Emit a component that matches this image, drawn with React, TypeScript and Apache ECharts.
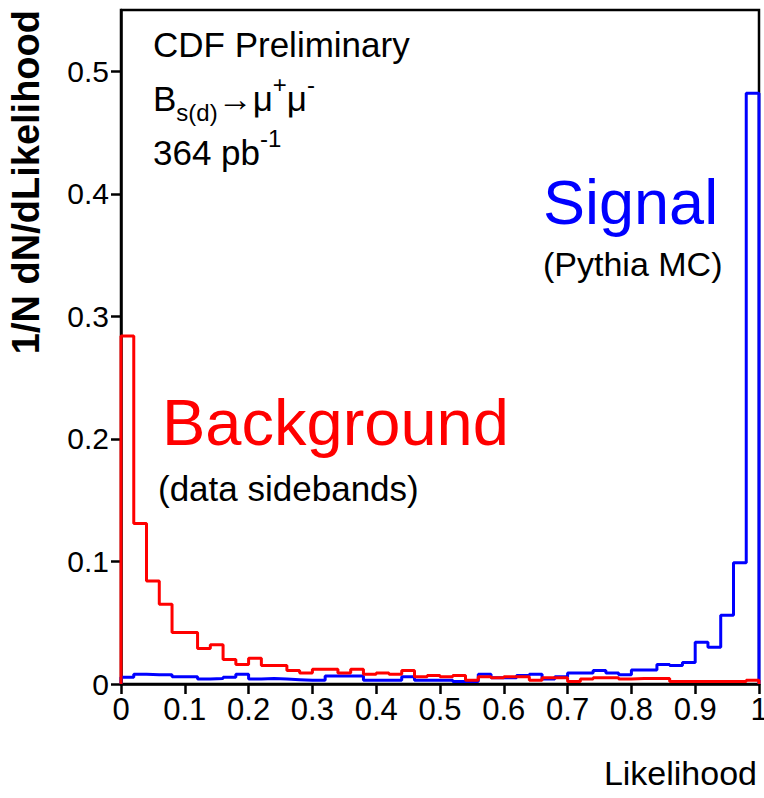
import React, { useEffect, useRef } from "react";
import * as echarts from "echarts";

const binWidth = 0.02;

// Background (data sidebands), 50 bins of width 0.02
const background = [
  0.284, 0.131, 0.084, 0.065, 0.042, 0.042, 0.029, 0.032, 0.020, 0.016,
  0.021, 0.015, 0.015, 0.011, 0.009, 0.012, 0.012, 0.009, 0.012, 0.008,
  0.009, 0.008, 0.011, 0.006, 0.007, 0.006, 0.007, 0.003, 0.006, 0.005,
  0.006, 0.006, 0.003, 0.005, 0.005, 0.002, 0.004, 0.005, 0.005, 0.004,
  0.0045, 0.0045, 0.0045, 0.002, 0.002, 0.002, 0.002, 0.002, 0.002, 0.003,
];

// Signal (Pythia MC), 50 bins of width 0.02
const signal = [
  0.0055, 0.008, 0.0075, 0.0075, 0.006, 0.006, 0.004, 0.0045, 0.0055, 0.008,
  0.004, 0.0045, 0.004, 0.0035, 0.003, 0.003, 0.0065, 0.0065, 0.0065, 0.003,
  0.003, 0.003, 0.006, 0.003, 0.003, 0.003, 0.002, 0.002, 0.008, 0.005,
  0.005, 0.007, 0.008, 0.004, 0.006, 0.009, 0.009, 0.011, 0.009, 0.0075,
  0.0115, 0.0115, 0.016, 0.015, 0.0175, 0.034, 0.030, 0.056, 0.099, 0.482,
];

const xTicks = [0, 0.1, 0.2, 0.3, 0.4, 0.5, 0.6, 0.7, 0.8, 0.9, 1];
const yTicks = [0, 0.1, 0.2, 0.3, 0.4, 0.5];

const FONT = "'Liberation Sans', Arial, Helvetica, sans-serif";

function outline(values: number[]): number[][] {
  const pts: number[][] = [[0, 0]];
  values.forEach((v, i) => pts.push([+(i * binWidth).toFixed(4), v]));
  pts.push([1, values[values.length - 1]]);
  pts.push([1, 0]);
  return pts;
}

const fmt = (v: number) => (v === 0 ? "0" : v === 1 ? "1" : String(+v.toFixed(2)));

export default function App() {
  const ref = useRef<HTMLDivElement>(null);

  useEffect(() => {
    if (!ref.current) return;
    const chart = echarts.init(ref.current, undefined, { renderer: "svg" });
    chart.setOption({
      animation: false,
      backgroundColor: "#ffffff",
      grid: {
        left: 121,
        right: 5,
        top: 10,
        bottom: 114,
        show: true,
        borderColor: "#000",
        borderWidth: 2.5,
        backgroundColor: "transparent",
        containLabel: false,
        outerBoundsMode: "none",
      },
      xAxis: {
        type: "value",
        min: 0,
        max: 1,
        interval: 0.1,
        name: "Likelihood",
        nameLocation: "end",
        nameGap: -2,
        nameTextStyle: {
          fontFamily: FONT,
          fontSize: 34,
          color: "#000",
          align: "right",
          verticalAlign: "top",
          padding: [72, 0, 0, 0],
        },
        axisLine: { show: true, lineStyle: { color: "#000", width: 2.5 } },
        axisTick: {
          show: true,
          length: 10,
          inside: false,
          customValues: xTicks,
          lineStyle: { color: "#000", width: 2.5 },
        },
        axisLabel: {
          customValues: xTicks,
          formatter: (v: number) => fmt(v),
          fontFamily: FONT,
          fontSize: 31,
          color: "#000",
          margin: 10,
        },
        splitLine: { show: false },
      },
      yAxis: {
        type: "value",
        min: 0,
        max: 0.55,
        interval: 0.1,
        name: "1/N dN/dLikelihood",
        nameLocation: "end",
        nameRotate: 90,
        nameGap: 0,
        nameTextStyle: {
          fontFamily: FONT,
          fontSize: 38,
          fontWeight: "bold",
          color: "#000",
          align: "right",
          verticalAlign: "bottom",
          padding: [0, 0, 76, 0],
        },
        axisLine: { show: true, lineStyle: { color: "#000", width: 2.5 } },
        axisTick: {
          show: true,
          length: 10,
          inside: false,
          customValues: yTicks,
          lineStyle: { color: "#000", width: 2.5 },
        },
        axisLabel: {
          customValues: yTicks,
          formatter: (v: number) => fmt(v),
          fontFamily: FONT,
          fontSize: 30,
          color: "#000",
          margin: 12,
        },
        splitLine: { show: false },
      },
      series: [
        {
          name: "Background",
          type: "line",
          step: "end",
          data: outline(background),
          showSymbol: false,
          lineStyle: { color: "#ff0000", width: 3 },
          itemStyle: { color: "#ff0000" },
          z: 3,
        },
        {
          name: "Signal",
          type: "line",
          step: "end",
          data: outline(signal),
          showSymbol: false,
          lineStyle: { color: "#0000ff", width: 3 },
          itemStyle: { color: "#0000ff" },
          z: 2,
        },
      ],
      graphic: [
        {
          type: "text",
          left: 153,
          top: 27,
          style: { text: "CDF Preliminary", font: `35px ${FONT}`, fill: "#000" },
        },
        {
          type: "text",
          left: 153,
          top: 72,
          style: {
            text: "{m|B}{sub|s(d)}{m|→μ}{sup|+}{m|μ}{sup|-}",
            fill: "#000",
            rich: {
              m: { fontFamily: FONT, fontSize: 35, lineHeight: 52, verticalAlign: "middle", fill: "#000" },
              sub: { fontFamily: FONT, fontSize: 24, lineHeight: 52, verticalAlign: "bottom", fill: "#000" },
              sup: { fontFamily: FONT, fontSize: 24, lineHeight: 52, verticalAlign: "top", fill: "#000" },
            },
          },
        },
        {
          type: "text",
          left: 153,
          top: 126,
          style: {
            text: "{m|364 pb}{sup|-1}",
            fill: "#000",
            rich: {
              m: { fontFamily: FONT, fontSize: 35, lineHeight: 52, verticalAlign: "middle", fill: "#000" },
              sup: { fontFamily: FONT, fontSize: 24, lineHeight: 52, verticalAlign: "top", fill: "#000" },
            },
          },
        },
        {
          type: "text",
          left: 543,
          top: 170,
          style: { text: "Signal", font: `63px ${FONT}`, fill: "#0000ff" },
        },
        {
          type: "text",
          left: 543,
          top: 247,
          style: { text: "(Pythia MC)", font: `34px ${FONT}`, fill: "#000" },
        },
        {
          type: "text",
          left: 162,
          top: 390,
          style: { text: "Background", font: `65px ${FONT}`, fill: "#ff0000" },
        },
        {
          type: "text",
          left: 158,
          top: 471,
          style: { text: "(data sidebands)", font: `35px ${FONT}`, fill: "#000" },
        },
      ],
    });
    return () => chart.dispose();
  }, []);

  return <div ref={ref} style={{ width: 764, height: 798, position: "absolute", left: 0, top: 0 }} />;
}
